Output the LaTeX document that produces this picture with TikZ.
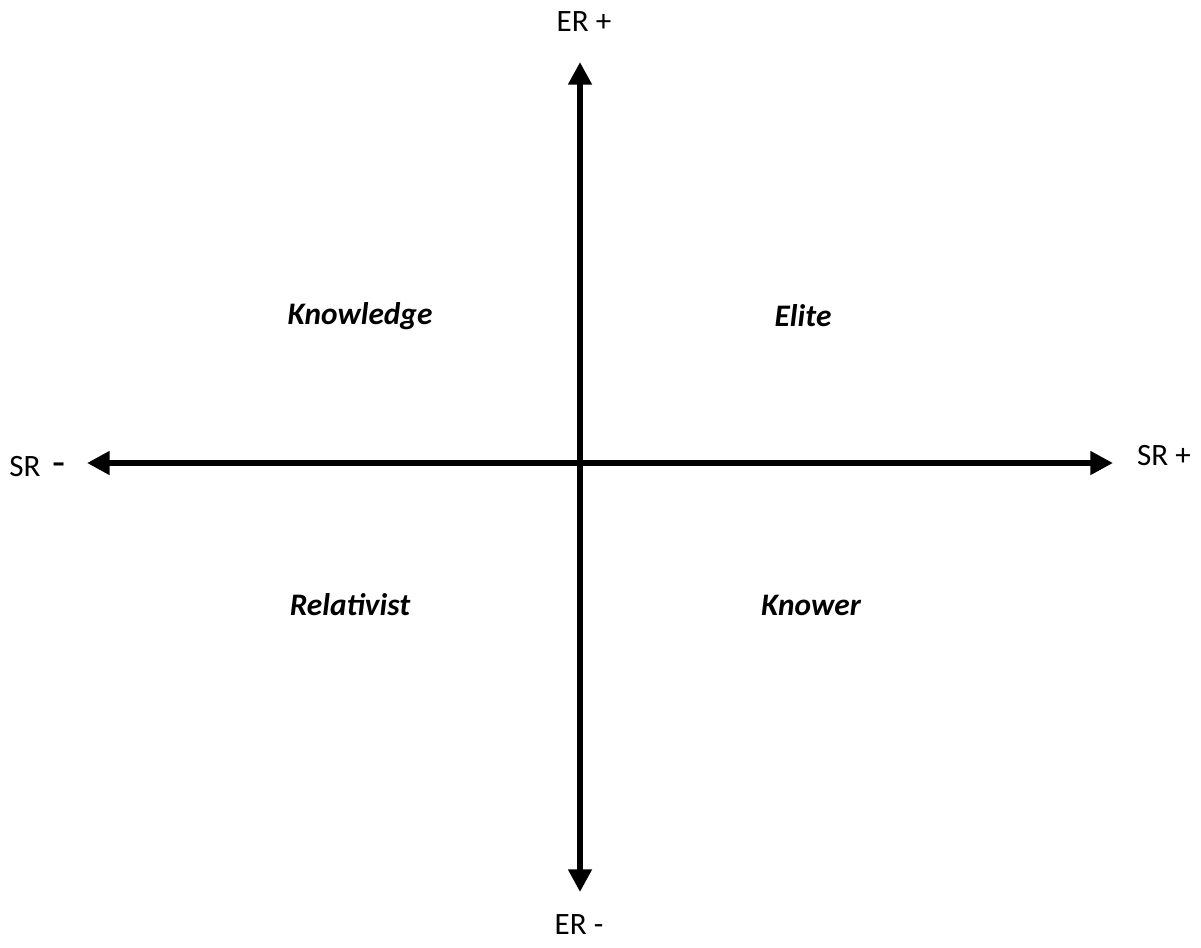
\documentclass[tikz,border=0pt]{standalone}
\usepackage{fontspec}
\setmainfont{Carlito}
\usetikzlibrary{arrows.meta}
\begin{document}
\begin{tikzpicture}[x=0.75pt,y=-0.75pt,
  axis/.style={line width=5.2pt,{Triangle[length=17pt,width=17pt]}-{Triangle[length=17pt,width=17pt]}},
  axlabel/.style={font=\fontsize{23.3}{27}\selectfont,inner sep=0pt},
  quad/.style={font=\fontsize{23.5}{27}\selectfont\bfseries\itshape,inner sep=0pt}]
\useasboundingbox (0,0) rectangle (1201,947);
\coordinate (L) at (87,463);
\coordinate (R) at (1113,463);
\coordinate (T) at (580,62);
\coordinate (B) at (580,892);
\draw[axis] (L) -- (R);
\draw[axis] (T) -- (B);
\node[axlabel] (erp) at (584,22) {ER +};
\node[axlabel] (erm) at (579,925) {ER -};
\node[axlabel] (srp) at (1164,456) {SR +};
\node[axlabel,anchor=west] (srm) at (9,467) {SR\hspace{0.4em}{\fontsize{32}{32}\selectfont -}};
\node[quad] (know) at (360,316) {Knowledge};
\node[quad] (elite) at (803,316) {Elite};
\node[quad] (rel) at (350,605) {Relativist};
\node[quad] (knower) at (811,605) {Knower};
\end{tikzpicture}
\end{document}
